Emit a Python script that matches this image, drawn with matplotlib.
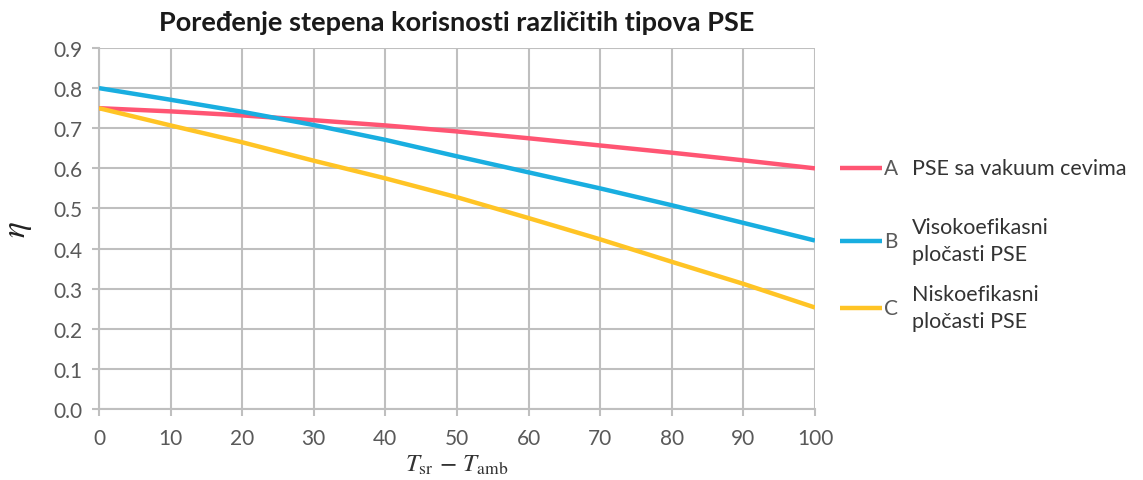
import numpy as np
import matplotlib
matplotlib.use("Agg")
import matplotlib.pyplot as plt
import matplotlib.transforms as mtransforms

plt.rcParams['font.family'] = ['Lato', 'DejaVu Sans']
plt.rcParams['mathtext.fontset'] = 'stix'

# data
x = [0, 10, 20, 30, 40, 50, 60, 70, 80, 90, 100]
eta_a = [0.75, 0.742, 0.732, 0.720, 0.707, 0.692, 0.675, 0.657, 0.639, 0.620, 0.600]
eta_b = [0.80, 0.771, 0.741, 0.708, 0.671, 0.630, 0.590, 0.550, 0.508, 0.464, 0.420]
eta_c = [0.75, 0.707, 0.665, 0.619, 0.575, 0.528, 0.476, 0.423, 0.367, 0.312, 0.253]
letters = ["A", "B", "C"]
labels = ["PSE sa vakuum cevima", "Visokoefikasni\npločasti PSE", "Niskoefikasni\npločasti PSE"]
colors = ["#FF5573", "#19AEE0", "#FFC425"]

fig = plt.figure(figsize=(11.43, 4.81), dpi=100)
ax = fig.add_axes([0.0866, 0.1476, 0.6264, 0.7505])

gray = "#BFBFBF"
txt = "#595959"

series = [eta_a, eta_b, eta_c]
for y, c in zip(series, colors):
    ax.plot(x, y, color=c, lw=3.2, solid_capstyle='butt', zorder=3)

ax.set_xlim(0, 100)
ax.set_ylim(0, 0.9)
ax.set_xticks(np.arange(0, 101, 10))
ax.set_yticks(np.arange(0, 0.91, 0.1))
ax.set_yticklabels(["%.1f" % v for v in np.arange(0, 0.91, 0.1)])
ax.grid(True, color=gray, lw=1.5)
ax.set_axisbelow(True)
for s in ["top", "right"]:
    ax.spines[s].set_visible(False)
for s in ["left", "bottom"]:
    ax.spines[s].set_color(gray)
    ax.spines[s].set_linewidth(1.5)
ax.tick_params(axis='both', colors=gray, length=5, width=1.5, labelcolor=txt, labelsize=15)
ax.tick_params(axis='x', pad=9)
ax.tick_params(axis='y', pad=7)

ax.set_title("Poređenje stepena korisnosti različitih tipova PSE", fontsize=19.5,
             fontweight='bold', color="#1a1a1a", pad=13)
ax.set_xlabel(r"$T_{\mathrm{sr}}\,-\,T_{\mathrm{amb}}$", fontsize=18, color="#333333", labelpad=3)
ax.set_ylabel(r"$\eta$", fontsize=24, color="#222222", labelpad=14)

# legend drawn beside the line ends
trans = mtransforms.blended_transform_factory(ax.transAxes, ax.transData)
for y, c, l, lab in zip(series, colors, letters, labels):
    yy = y[-1]
    ax.plot([1.035, 1.094], [yy, yy], color=c, lw=3.2, transform=trans, clip_on=False,
            solid_capstyle='butt')
    ax.text(1.097, yy, l, transform=trans, va='center', ha='left', fontsize=15, color=txt)
    ax.text(1.135, yy, lab, transform=trans, va='center', ha='left', fontsize=15.5,
            color="#333333", linespacing=1.45)

fig.savefig("out.png", dpi=100)
